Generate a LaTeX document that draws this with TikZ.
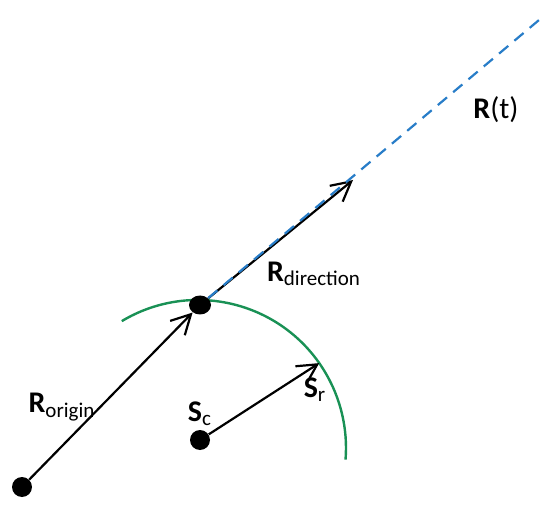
\documentclass[tikz,border=0pt]{standalone}
\usepackage{fontspec}
\setmainfont{Carlito}
\usetikzlibrary{arrows.meta,calc,shapes.geometric}
\definecolor{raysblue}{RGB}{40,125,200}
\definecolor{spheregreen}{RGB}{25,145,85}

\begin{document}
\begin{tikzpicture}[x=0.5pt, y=-0.5pt,
	every node/.style={font=\fontsize{15}{17}\selectfont},
	>={Straight Barb[length=3.4mm, width=3.6mm]},
	dot/.style={circle, fill=black, inner sep=0pt, minimum size=10pt},
	vec/.style={->, line width=1.1pt, black}]
	\useasboundingbox (0,0) rectangle (547,524);
	% sphere
	\coordinate (c0) at (198,448);
	\draw[spheregreen, line width=1.2pt] (c0) ++(-121:148) arc[start angle=-121, end angle=4.5, radius=148];
	\coordinate (srtip) at ($(c0)+(-35:148)$);
	% points
	\node[dot] (orig) at (22,487) {};
	\node[dot, ellipse, minimum width=11pt, minimum height=9.5pt] (hit) at (200,305) {};
	\node[dot] (sc) at (200,440) {};
	\coordinate (dirtip) at (353,180);
	\coordinate (rayend) at (545,15);
	% vectors
	\draw[vec] (orig) -- (hit);
	\draw[vec] (hit) -- (dirtip);
	\draw[raysblue, line width=1.1pt, dash pattern=on 6pt off 4pt] (hit) -- (rayend);
	\draw[vec] (sc) -- (srtip);
	% labels
	\node (rt) at (496,110) {\textbf{R}(t)};
	\node (rdir) at (314,274) {\textbf{R}\textsubscript{direction}};
	\node (rorig) at (62,407) {\textbf{R}\textsubscript{origin}};
	\node (scl) at (200,414) {\textbf{S}\textsubscript{c}};
	\node (srl) at (315,390) {\textbf{S}\textsubscript{r}};
\end{tikzpicture}
\end{document}
